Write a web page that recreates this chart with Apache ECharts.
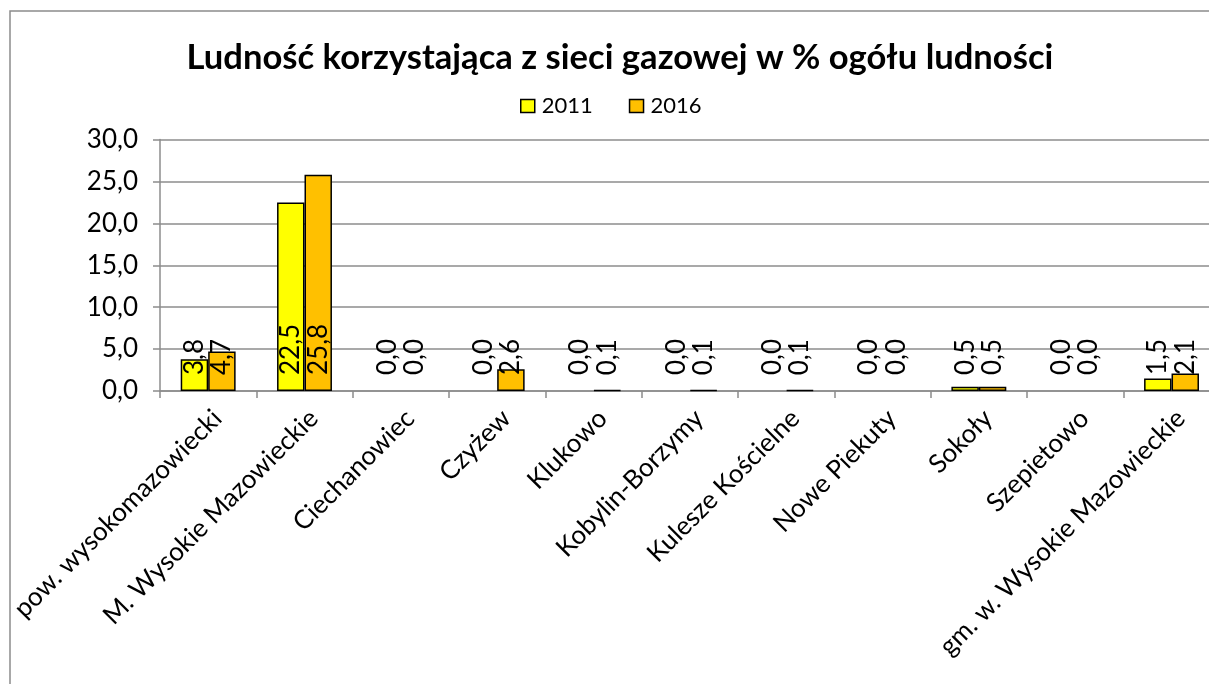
<!DOCTYPE html>
<html>
<head>
<meta charset="utf-8">
<script src="https://cdn.jsdelivr.net/npm/echarts@6/dist/echarts.min.js"></script>
<style>
  html, body { margin: 0; padding: 0; background: #fff; overflow: hidden; }
  #chart { width: 1240px; height: 684px; }
</style>
</head>
<body>
<div id="chart"></div>
<script>
// Gminy powiatu wysokomazowieckiego
const categories = [
  'pow. wysokomazowiecki',
  'M. Wysokie Mazowieckie',
  'Ciechanowiec',
  'Czyżew',
  'Klukowo',
  'Kobylin-Borzymy',
  'Kulesze Kościelne',
  'Nowe Piekuty',
  'Sokoły',
  'Szepietowo',
  'gm. w. Wysokie Mazowieckie'
];
const seriesNames = ['2011', '2016'];
const values2011 = [3.8, 22.5, 0.0, 0.0, 0.0, 0.0, 0.0, 0.0, 0.5, 0.0, 1.5];
const values2016 = [4.7, 25.8, 0.0, 2.6, 0.1, 0.1, 0.1, 0.0, 0.5, 0.0, 2.1];
const yTicks = [0, 5, 10, 15, 20, 25, 30];

const FONT = 'Lato';
const fmt = v => Number(v).toFixed(1).replace('.', ',');

// zero values get no outline, like an empty bar
const toItems = arr => arr.map(v => ({
  value: v,
  itemStyle: v === 0 ? { borderWidth: 0 } : undefined
}));

const barLabel = {
  show: true,
  position: 'insideBottom',
  distance: 16,
  rotate: 90,
  align: 'left',
  verticalAlign: 'middle',
  color: '#000',
  fontFamily: FONT,
  fontSize: 26,
  formatter: p => fmt(p.value)
};

const chart = echarts.init(document.getElementById('chart'), null, { renderer: 'canvas' });
chart.setOption({
  animation: false,
  backgroundColor: '#fff',
  title: {
    text: 'Ludność korzystająca z sieci gazowej w % ogółu ludności',
    left: 615,
    textAlign: 'center',
    top: 35,
    textStyle: { fontFamily: FONT, fontWeight: 'bold', fontSize: 34.6, color: '#000' }
  },
  legend: {
    data: seriesNames,
    left: 515,
    top: 90,
    itemWidth: 14,
    itemHeight: 13,
    itemGap: 36,
    icon: 'rect',
    itemStyle: { borderColor: '#000', borderWidth: 1.5 },
    textStyle: { fontFamily: FONT, fontSize: 22, color: '#000', padding: [0, 0, 0, 2] }
  },
  graphic: [{
    type: 'rect',
    shape: { x: 10, y: 11, width: 1400, height: 900 },
    style: { fill: 'none', stroke: '#8c8c8c', lineWidth: 1.5 },
    silent: true,
    z: 100
  }],
  grid: { left: 160, top: 139.5, right: 20.3, bottom: 293, containLabel: false },
  xAxis: {
    type: 'category',
    data: categories,
    axisLine: { lineStyle: { color: '#8c8c8c', width: 1.5 } },
    axisTick: { show: true, length: 7, alignWithLabel: false, lineStyle: { color: '#8c8c8c', width: 1.5 } },
    axisLabel: {
      interval: 0,
      rotate: 45,
      margin: 14,
      verticalAlign: 'top',
      color: '#000',
      fontFamily: FONT,
      fontSize: 26
    }
  },
  yAxis: {
    type: 'value',
    min: yTicks[0],
    max: yTicks[yTicks.length - 1],
    interval: yTicks[1] - yTicks[0],
    axisLine: { show: true, lineStyle: { color: '#8c8c8c', width: 1.5 } },
    axisTick: { show: true, length: 7, lineStyle: { color: '#8c8c8c', width: 1.5 } },
    splitLine: { lineStyle: { color: '#8c8c8c', width: 1.5 } },
    axisLabel: {
      margin: 22,
      color: '#000',
      fontFamily: FONT,
      fontSize: 26,
      formatter: v => fmt(v)
    }
  },
  series: [
    {
      name: seriesNames[0],
      type: 'bar',
      data: toItems(values2011),
      barGap: '0%',
      barCategoryGap: '43%',
      itemStyle: { color: '#FFFF00', borderColor: '#000', borderWidth: 1.5 },
      label: barLabel
    },
    {
      name: seriesNames[1],
      type: 'bar',
      data: toItems(values2016),
      itemStyle: { color: '#FFC000', borderColor: '#000', borderWidth: 1.5 },
      label: barLabel
    }
  ]
});
</script>
</body>
</html>
